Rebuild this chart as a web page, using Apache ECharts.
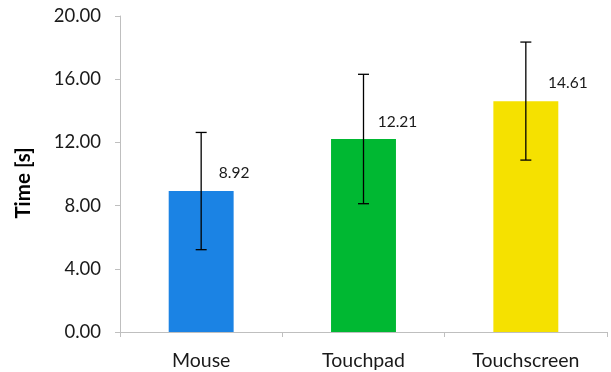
<!DOCTYPE html>
<html>
<head>
<meta charset="utf-8">
<script src="https://cdn.jsdelivr.net/npm/echarts@6/dist/echarts.min.js"></script>
<style>html,body{margin:0;padding:0;background:#fff}#c{width:611px;height:372px}</style>
</head>
<body>
<div id="c"></div>
<script>
var categories = ['Mouse', 'Touchpad', 'Touchscreen'];
var means = [8.92, 12.21, 14.61];
var errLow = [5.21, 8.12, 10.88];
var errHigh = [12.63, 16.31, 18.35];
var barColors = ['#1B83E4', '#00B832', '#F5E100'];
var yTicks = { min: 0, max: 20, interval: 4 };
var labelOffsets = [[33, -10], [34, -9], [42, -10]];

var chart = echarts.init(document.getElementById('c'));
var font = 'Lato';
chart.setOption({
  animation: false,
  grid: { left: 120, right: 4, top: 16, bottom: 40 },
  xAxis: {
    type: 'category',
    data: categories,
    axisLine: { lineStyle: { color: '#BFBFBF', width: 1 } },
    axisTick: { show: true, length: 5, alignWithLabel: false, lineStyle: { color: '#BFBFBF' } },
    axisLabel: { color: '#1a1a1a', fontFamily: font, fontSize: 19.5, margin: 19 }
  },
  yAxis: {
    type: 'value',
    min: yTicks.min, max: yTicks.max, interval: yTicks.interval,
    name: 'Time [s]',
    nameLocation: 'middle',
    nameGap: 86,
    nameTextStyle: { fontFamily: font, fontSize: 20.5, fontWeight: 'bold', color: '#000', padding: [0, 18, 0, 0] },
    axisLine: { show: true, lineStyle: { color: '#BFBFBF', width: 1 } },
    axisTick: { show: true, length: 5, lineStyle: { color: '#BFBFBF' } },
    splitLine: { show: false },
    axisLabel: { color: '#1a1a1a', fontFamily: font, fontSize: 18.5, margin: 19,
      formatter: function (v) { return v.toFixed(2); } }
  },
  series: [{
    type: 'bar',
    barWidth: '40%',
    data: means.map(function (v, i) {
      return {
        value: v,
        itemStyle: { color: barColors[i] },
        label: { offset: labelOffsets[i] }
      };
    }),
    label: {
      show: true, position: 'top', distance: 0,
      fontFamily: font, fontSize: 15.5, color: '#1a1a1a',
      formatter: function (p) { return p.value.toFixed(2); }
    }
  }, {
    type: 'custom',
    data: categories.map(function (c, i) { return [i, errLow[i], errHigh[i]]; }),
    z: 10,
    renderItem: function (params, api) {
      var x = api.value(0);
      var lo = api.coord([x, api.value(1)]);
      var hi = api.coord([x, api.value(2)]);
      var hw = 5.5;
      var st = { stroke: '#000', lineWidth: 1.3 };
      return {
        type: 'group',
        children: [
          { type: 'line', shape: { x1: hi[0], y1: hi[1], x2: lo[0], y2: lo[1] }, style: st },
          { type: 'line', shape: { x1: hi[0] - hw, y1: hi[1], x2: hi[0] + hw, y2: hi[1] }, style: st },
          { type: 'line', shape: { x1: lo[0] - hw, y1: lo[1], x2: lo[0] + hw, y2: lo[1] }, style: st }
        ]
      };
    }
  }]
});
</script>
</body>
</html>
